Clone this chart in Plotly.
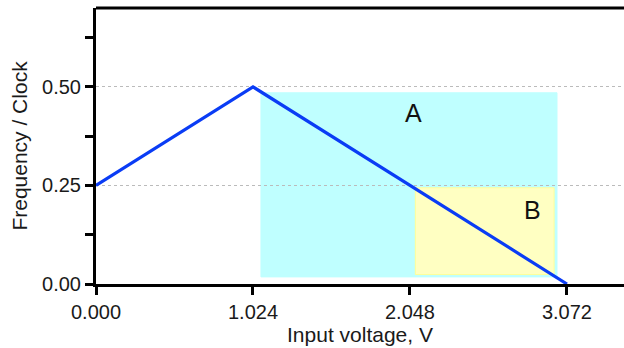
import plotly.graph_objects as go

# Data
volt = [0.0, 1.024, 3.072]
freq = [0.25, 0.5, 0.0]
x_ticks = [0.0, 1.024, 2.048, 3.072]
x_tick_labels = ["0.000", "1.024", "2.048", "3.072"]
y_ticks = [0.0, 0.25, 0.5]
y_tick_labels = ["0.00", "0.25", "0.50"]
y_minor = [0.125, 0.375, 0.625]
region_names = ["A", "B"]
region_x0 = [1.076, 2.083]
region_x1 = [3.007, 2.988]
region_y0 = [0.018, 0.024]
region_y1 = [0.485, 0.244]
region_fill = ["#BFFFFF", "#FFFFC2"]
region_border = ["#BFFFFF", "#FFFF99"]
label_x = [2.074, 2.844]
label_y = [0.434, 0.188]

FONT = "Liberation Sans, Arial, sans-serif"

fig = go.Figure()
fig.add_trace(go.Scatter(x=volt, y=freq, mode="lines",
                         line=dict(color="#0A3CF5", width=3.2), showlegend=False,
                         cliponaxis=False, hoverinfo="skip"))

for i, n in enumerate(region_names):
    fig.add_shape(type="rect", xref="x", yref="y", x0=region_x0[i], x1=region_x1[i],
                  y0=region_y0[i], y1=region_y1[i], fillcolor=region_fill[i],
                  line=dict(color=region_border[i], width=1), layer="below")
    fig.add_annotation(x=label_x[i], y=label_y[i], text=n, showarrow=False,
                       font=dict(family=FONT, size=25, color="#111"))

# top border
fig.add_shape(type="line", xref="paper", yref="paper", x0=0, x1=1, y0=1, y1=1,
              line=dict(color="black", width=3))

fig.update_layout(
    width=624, height=348,
    margin=dict(l=96, r=0, t=8, b=64),
    plot_bgcolor="white", paper_bgcolor="white",
    font=dict(family=FONT, size=20, color="#1a1a1a"),
    xaxis=dict(range=[0, 3.444], tickvals=x_ticks, ticktext=x_tick_labels,
               showgrid=False, zeroline=False, showline=True, linecolor="black",
               linewidth=3, ticks="outside", ticklen=8, tickwidth=3, tickcolor="black",
               title=dict(text="Input voltage, V", font=dict(size=21), standoff=1)),
    yaxis=dict(range=[0, 0.70], tickvals=y_ticks, ticktext=y_tick_labels,
               showgrid=True, gridcolor="#BBBBBB", griddash="dot", gridwidth=1,
               zeroline=False, showline=True, linecolor="black", linewidth=3,
               ticks="outside", ticklen=8, tickwidth=3, tickcolor="black",
               minor=dict(tickvals=y_minor, ticks="outside", ticklen=8, tickwidth=3,
                          tickcolor="black", showgrid=False),
               title=dict(text="Frequency / Clock", font=dict(size=21), standoff=9)),
)

fig.write_html("out.html", config={"displayModeBar": False, "staticPlot": True},
               post_script="document.body.style.margin='0px';")
